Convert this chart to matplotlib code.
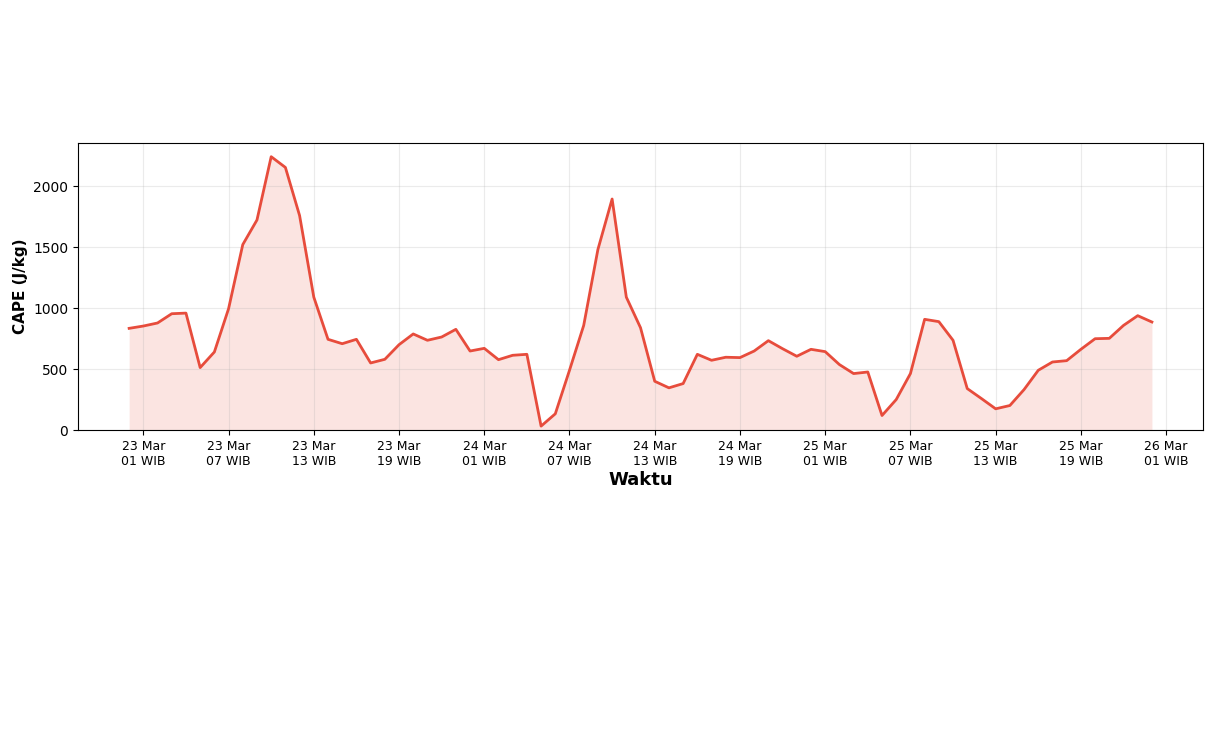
import pandas as pd
import matplotlib
matplotlib.use("Agg")
import matplotlib.pyplot as plt
import matplotlib.dates as mdates

# Hourly CAPE values, 23 Mar 00 WIB .. 26 Mar 00 WIB
start_time = "2025-03-23 00:00"
cape_values = [
    835, 854, 879, 955, 960, 513, 641, 996, 1522, 1724,
    2243, 2155, 1760, 1091, 745, 709, 745, 551, 581, 701,
    789, 737, 764, 827, 649, 671, 578, 614, 622, 33,
    134, 491, 859, 1482, 1896, 1091, 840, 401, 347, 382,
    622, 573, 598, 595, 649, 734, 668, 606, 663, 644,
    538, 464, 477, 120, 251, 464, 909, 890, 737, 341,
    259, 175, 202, 333, 491, 559, 570, 663, 750, 753,
    859, 939, 887,
]
times = pd.date_range(start_time, periods=len(cape_values), freq="h")

line_color = "#e74c3c"

fig = plt.figure(figsize=(12.13, 7.52), dpi=100)
ax = fig.add_axes([0.0643, 0.428, 0.9275, 0.3818])

ax.plot(times, cape_values, color=line_color, linewidth=2)
ax.fill_between(times, cape_values, 0, color=line_color, alpha=0.15, linewidth=0)

ax.xaxis.set_major_locator(mdates.HourLocator(byhour=[1, 7, 13, 19]))
ax.xaxis.set_major_formatter(mdates.DateFormatter("%d %b\n%H WIB"))
ax.tick_params(axis="x", labelsize=9)
ax.tick_params(axis="y", labelsize=10)

ax.set_ylim(bottom=0)
ax.grid(True, alpha=0.25)
ax.set_ylabel("CAPE (J/kg)", fontsize=11, fontweight="bold")
ax.set_xlabel("Waktu", fontsize=13, fontweight="bold", labelpad=2)

fig.savefig("out.png", dpi=100)
